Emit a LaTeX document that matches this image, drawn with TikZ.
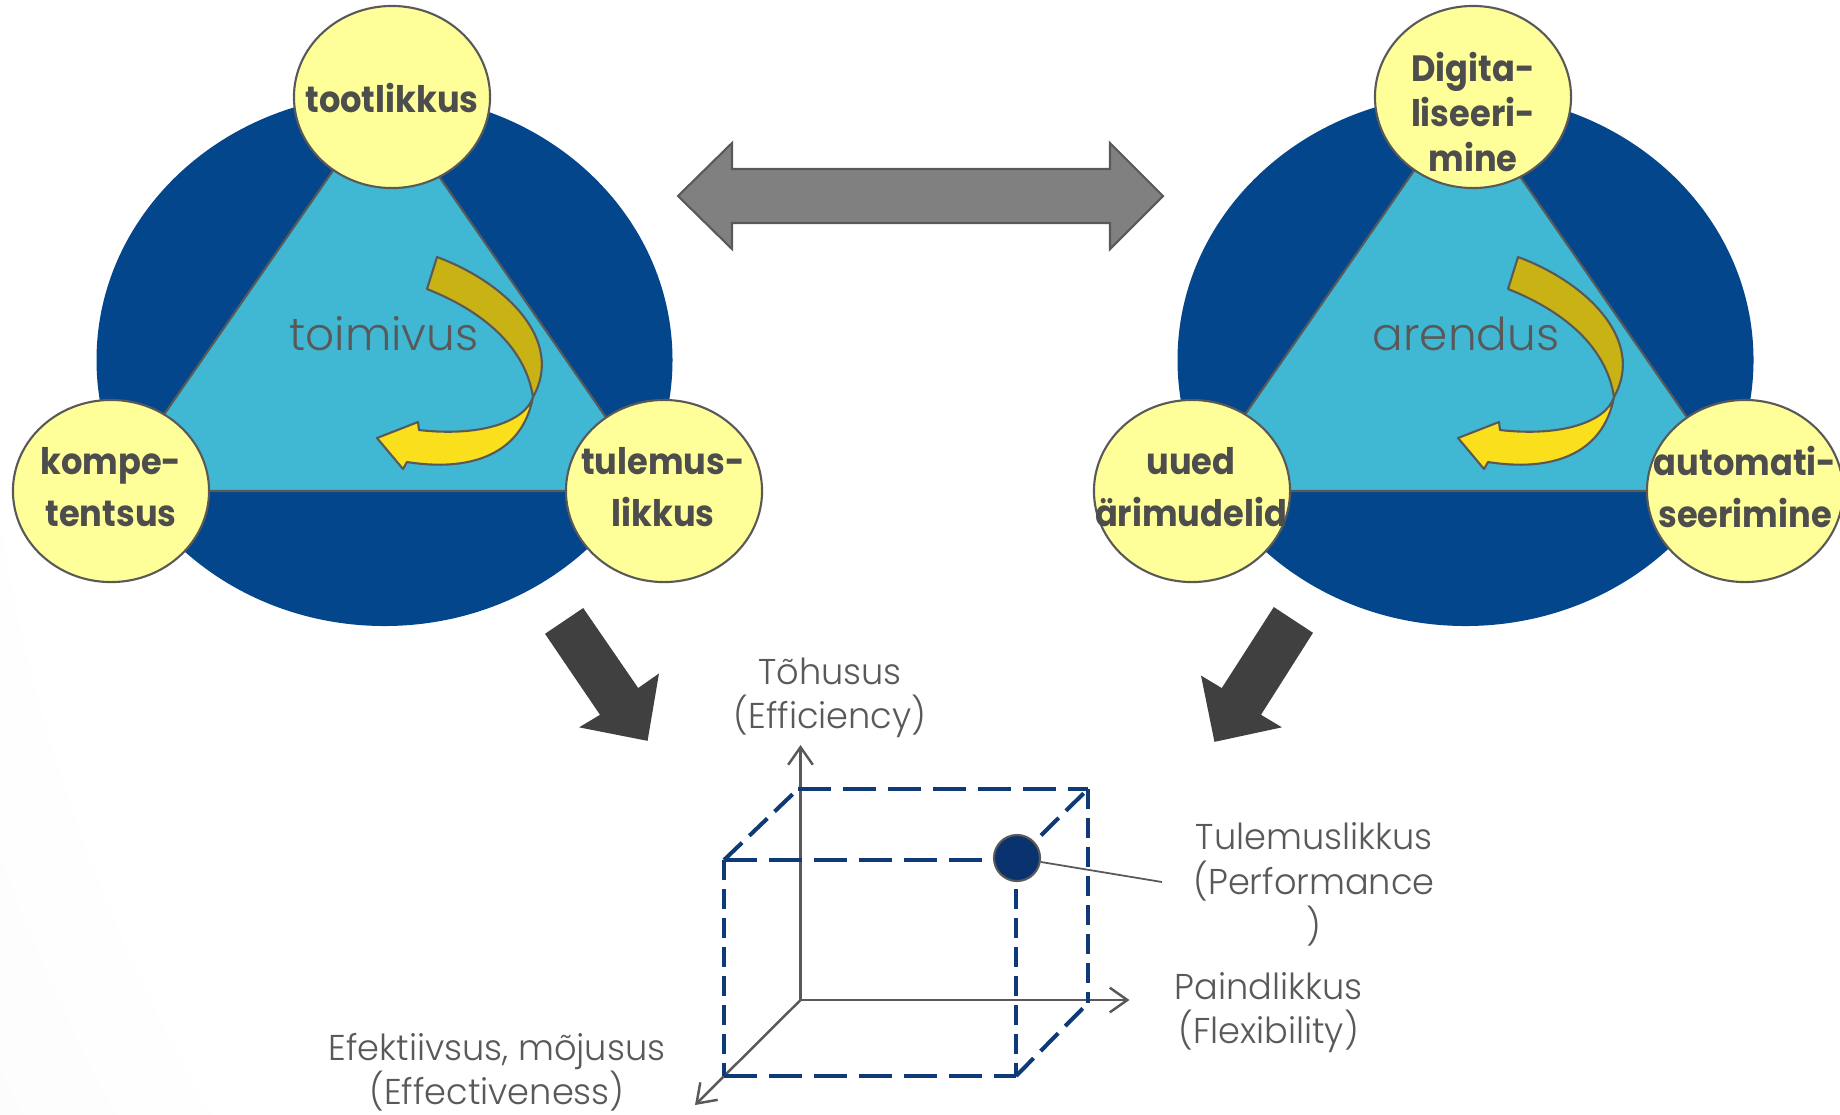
\documentclass[tikz,border=0pt]{standalone}
\usepackage{fontspec}
\setmainfont{Poppins}
\newfontfamily\labelfont{Poppins}[FakeStretch=0.92]
\newfontfamily\axisfont{Poppins}[UprightFont={* Light}, FakeStretch=0.98]
\newfontfamily\hubfont{Poppins}[UprightFont={* Light}]
\usetikzlibrary{shapes.geometric,arrows.meta}

\definecolor{hub}{HTML}{04468C}
\definecolor{core}{HTML}{41B8D3}
\definecolor{bubblefill}{HTML}{FFFF99}
\definecolor{ink}{HTML}{595959}
\definecolor{labelink}{HTML}{4D4D4D}
\definecolor{swapgray}{HTML}{808080}
\definecolor{flowgray}{HTML}{404040}
\definecolor{gold}{HTML}{C9B214}
\definecolor{sun}{HTML}{FADF1C}
\definecolor{cubeblue}{HTML}{0E3B77}
\definecolor{dotblue}{HTML}{0A326E}
\definecolor{bgdark}{HTML}{E3E3E3}

\pgfdeclareradialshading{slidebg}{\pgfpoint{0bp}{0bp}}{%
  color(0bp)=(white); color(21bp)=(white); color(50bp)=(bgdark)}

\tikzset{
  bubble/.style={ellipse, draw=ink, line width=0.6pt, fill=bubblefill,
    minimum width=1.96cm, minimum height=1.82cm, inner sep=0pt},
  boldlabel/.style={font=\labelfont\bfseries\fontsize{10.4}{14.7}\selectfont,
    text=labelink, align=center, inner sep=0pt},
  hubtext/.style={font=\hubfont\fontsize{12.9}{15}\selectfont, text=ink, inner sep=0pt},
  axislabel/.style={font=\axisfont\fontsize{10.2}{12.5}\selectfont, text=ink,
    align=center, inner sep=0pt},
  axis/.style={ink, line width=0.7pt, -{Straight Barb[length=5pt,width=7pt]}},
  hdash/.style={cubeblue, line width=1.15pt, dash pattern=on 0.33cm off 0.12cm},
  vdash/.style={cubeblue, line width=1.15pt, dash pattern=on 0.2cm off 0.09cm},
  ddash/.style={cubeblue, line width=1.15pt, dash pattern=on 0.25cm off 0.1cm},
  triangle/.style={fill=core, draw=ink, line width=0.6pt},
  twistdark/.style={fill=gold, draw=ink, line width=0.6pt, line join=round},
  twistlight/.style={fill=sun, draw=ink, line width=0.6pt, line join=round},
  blockarrow/.style={fill=flowgray, draw=flowgray, line width=0.4pt},
  swaparrow/.style={fill=swapgray, draw=ink, line width=0.6pt},
}

\begin{document}
\begin{tikzpicture}[x={(0.01cm,0)}, y={(0,-0.01cm)}]
\useasboundingbox (0,0) rectangle (1840,1114);

% slide background
\begin{scope}
  \clip (0,0) rectangle (1840,1114);
  \fill[bgdark] (0,0) rectangle (1840,1114);
  \shade[shading=slidebg] (1700,250) circle (2000);
\end{scope}

% the two circle-and-triangle diagrams share their geometry
\foreach \dx in {0,1081} {
  \begin{scope}[xshift=\dx*0.01cm]
    \fill[hub] (384.5,360) ellipse [x radius=288, y radius=266];
    \draw[triangle] (384,97) -- (111,491) -- (657,491) -- cycle;
    % twisted ribbon arrow
    \draw[twistdark] (437,257) .. controls (505,282) and (565,340) .. (533,397)
      .. controls (525,345) and (480,310) .. (427,289) -- cycle;
    \draw[twistlight] (533,397) .. controls (522,455) and (470,472) .. (407,462)
      -- (403,469) -- (377,438) -- (418,422) -- (419,430)
      .. controls (480,437) and (525,422) .. (533,397) -- cycle;
  \end{scope}
}

% centre words
\node[hubtext] (toimivus) at (384,334) {toimivus};
\node[hubtext] (arendus) at (1466,334) {arendus};

% left diagram corners
\node[bubble] (tootlikkus) at (392,97) {};
\node[bubble] (kompetentsus) at (111,491) {};
\node[bubble] (tulemuslikkus) at (664,491) {};
\node[boldlabel] (tootlikkusT) at (392,98) {tootlikkus};
\node[boldlabel] (kompetentsusT) at (111,487) {kompe-\\tentsus};
\node[boldlabel] (tulemuslikkusT) at (663,487) {tulemus-\\likkus};

% right diagram corners
\node[bubble] (digi) at (1473,97) {};
\node[bubble] (uued) at (1192,491) {};
\node[bubble] (auto) at (1745,491) {};
\node[boldlabel, font=\labelfont\bfseries\fontsize{10.4}{12.7}\selectfont] (digiT) at (1473,112) {Digita-\\liseeri-\\mine};
\node[boldlabel] (uuedT) at (1191,487) {uued\\ärimudelid};
\node[boldlabel] (autoT) at (1745,487) {automati-\\seerimine};

% two-way arrow between the diagrams
\draw[swaparrow] (678,196) -- (732,143) -- (732,169) -- (1110,169) -- (1110,143)
  -- (1163,196) -- (1110,249) -- (1110,223) -- (732,223) -- (732,249) -- cycle;

% arrows down into the cube
\draw[blockarrow] (546,634) -- (583,609) -- (638,689) -- (658,675) -- (647,740)
  -- (581,727) -- (601,715) -- cycle;
\draw[blockarrow] (1274,608) -- (1312,633) -- (1260,715) -- (1280,727) -- (1215,741)
  -- (1202,677) -- (1222,689) -- cycle;

% cube: axes
\coordinate (O) at (800.5,1000);
\coordinate (upTip) at (800.5,745);
\coordinate (rightTip) at (1129.5,1000);
\coordinate (diagTip) at (695,1105);
\draw[axis] (O) -- (upTip);
\draw[axis] (O) -- (rightTip);
\draw[axis] (O) -- (diagTip);

% cube: dashed edges
\coordinate (FTL) at (724,860);
\coordinate (FTR) at (1016,860);
\coordinate (FBL) at (724,1076);
\coordinate (FBR) at (1016,1076);
\coordinate (BTL) at (798,789);
\coordinate (BTR) at (1088,789);
\coordinate (BBR) at (1088,1003);
\draw[hdash] (FTL) -- (FTR);
\draw[hdash] (FBL) -- (FBR);
\draw[hdash] (BTL) -- (BTR);
\draw[vdash] (FTL) -- (FBL);
\draw[vdash] (FTR) -- (FBR);
\draw[vdash] (BTR) -- (BBR);
\draw[ddash] (FTL) -- (BTL);
\draw[ddash] (FTR) -- (BTR);
\draw[ddash] (FBR) -- (BBR);

% performance point
\node[circle, fill=dotblue, draw=ink, line width=0.6pt, minimum size=0.46cm,
  inner sep=0pt] (perf) at (1017,858) {};
\coordinate (leadEnd) at (1162,882);
\draw[ink, line width=0.5pt] (perf) -- (leadEnd);

% axis labels
\node[axislabel] (effLabel) at (830,698) {Tõhusus\\(Efficiency)};
\node[axislabel, font=\axisfont\fontsize{10.2}{12.8}\selectfont] (perfLabel) at (1314,884) {Tulemuslikkus\\(Performance\\)};
\node[axislabel] (flexLabel) at (1268.5,1013) {Paindlikkus\\(Flexibility)};
\node[axislabel] (effectLabel) at (497,1072) {Efektiivsus, mõjusus\\(Effectiveness)};

\end{tikzpicture}
\end{document}
